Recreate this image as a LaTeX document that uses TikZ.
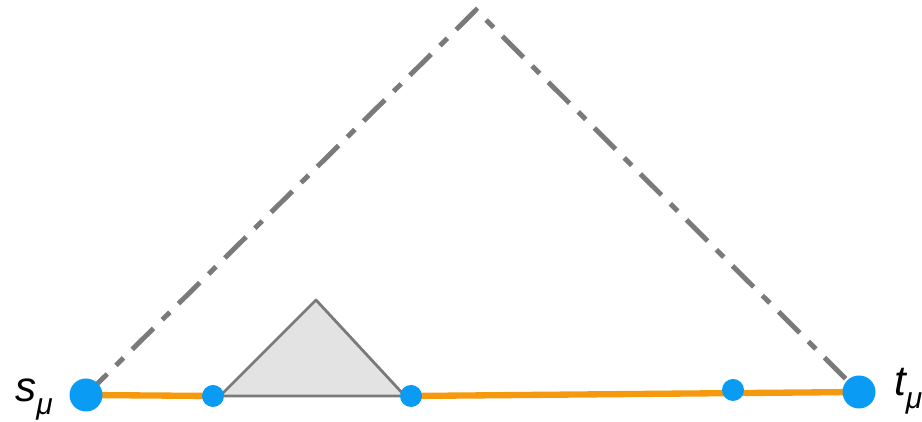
\documentclass[tikz,border=0pt]{standalone}
\usepackage{fontspec}
\setmainfont{Liberation Sans}
\usetikzlibrary{positioning}
\definecolor{dotblue}{HTML}{0A9BF5}
\definecolor{pathorange}{HTML}{F5990F}
\definecolor{linegray}{HTML}{7A7A7A}
\definecolor{trifill}{HTML}{E3E3E3}
\newcommand{\sublbl}[1]{\raisebox{-7pt}{\fontsize{17}{17}\selectfont #1}}
\tikzset{
    bigdot/.style={circle, fill=dotblue, inner sep=0pt, minimum size=0.66cm},
    smalldot/.style={circle, fill=dotblue, inner sep=0pt, minimum size=0.44cm},
    outline/.style={linegray, line width=2.8pt, dash pattern=on 17pt off 7pt on 6pt off 7pt},
    pathline/.style={pathorange, line width=3.6pt},
    lbl/.style={font=\fontsize{24}{24}\selectfont\itshape, inner sep=0pt}
}
\begin{document}
\begin{tikzpicture}
        \useasboundingbox (0,0) rectangle (18.44,8.44);
        % Eckpunkte
        \coordinate (top) at (9.52, 8.24);
        \coordinate (apex) at (6.32, 2.44);
        
        % gestrichelte Huelle
        \draw[outline] (1.72, 0.54) -- (top) -- (17.18, 0.60);
        
        % Pfad
        \draw[pathline] (1.72, 0.54) -- (4.26, 0.52);
        \draw[pathline] (8.22, 0.52) -- (17.18, 0.60);
        
        % Dreieck
        \draw[linegray, line width=1.6pt, fill=trifill, line join=round] (4.40, 0.52) -- (apex) -- (8.10, 0.52) -- cycle;
        
        % Knoten
        \node[bigdot] (s) at (1.72, 0.54) {};
        \node[bigdot] (t) at (17.18, 0.60) {};
        \node[smalldot] (a) at (4.26, 0.52) {};
        \node[smalldot] (b) at (8.22, 0.52) {};
        \node[smalldot] (c) at (14.66, 0.64) {};
        
        \node[lbl, anchor=base east] (slbl) at ([xshift=-0.32cm, yshift=-0.14cm]s.west) {s\sublbl{μ}};
        \node[lbl, anchor=base west] (tlbl) at ([xshift=0.36cm, yshift=-0.08cm]t.east) {t\sublbl{μ}};
\end{tikzpicture}
\end{document}
